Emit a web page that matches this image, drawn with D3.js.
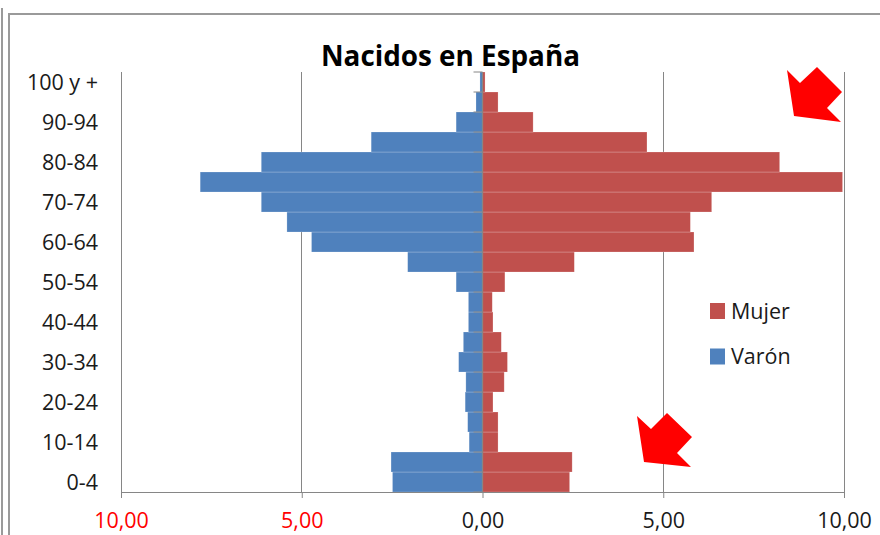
<!DOCTYPE html>
<html><head><meta charset="utf-8">
<script src="https://cdn.jsdelivr.net/npm/d3@7"></script>
<style>html,body{margin:0;padding:0;background:#fff;}svg{display:block;}</style>
</head><body>
<svg id="c" width="880" height="535"></svg>
<script>
const ageGroups = ["0-4","5-9","10-14","15-19","20-24","25-29","30-34","35-39","40-44","45-49","50-54","55-59","60-64","65-69","70-74","75-79","80-84","85-89","90-94","95-99","100 y +"];
const varon = [2.49,2.53,0.37,0.41,0.48,0.46,0.66,0.53,0.39,0.39,0.73,2.07,4.73,5.41,6.12,7.81,6.12,3.08,0.73,0.18,0.07];
const mujer = [2.41,2.48,0.43,0.43,0.29,0.60,0.69,0.52,0.29,0.27,0.62,2.54,5.85,5.75,6.34,9.96,8.22,4.55,1.40,0.43,0.07];
const xTicks = [-10,-5,0,5,10];
const xTickLabels = ["10,00","5,00","0,00","5,00","10,00"];
const seriesNames = ["Mujer","Varón"];
const title = "Nacidos en España";

const svg = d3.select("#c");
const FONT = "'Open Sans', sans-serif";
const grey = "#868686";
const blue = "#4F81BD", red = "#C0504D";

// frame
svg.append("line").attr("x1",2).attr("x2",2).attr("y1",8).attr("y2",535).attr("stroke","#9a9a9a").attr("stroke-width",2);
svg.append("path").attr("d","M9,535 V14 H880").attr("fill","none").attr("stroke","#9a9a9a").attr("stroke-width",2);

const x = d3.scaleLinear().domain([-10,10]).range([121,844]);
const y = d3.scaleBand().domain(ageGroups.slice().reverse()).range([72,492]).padding(0);

// gridlines
svg.append("g").selectAll("line").data(xTicks.filter(d=>d!==0)).join("line")
  .attr("x1",d=>x(d)).attr("x2",d=>x(d)).attr("y1",72).attr("y2",492)
  .attr("stroke",grey).attr("stroke-width",1).attr("shape-rendering","crispEdges");

// bars
svg.append("g").selectAll("rect").data(ageGroups).join("rect")
  .attr("x",(d,i)=>x(-varon[i])).attr("y",d=>y(d))
  .attr("width",(d,i)=>x(0)-x(-varon[i])).attr("height",y.bandwidth())
  .attr("fill",blue).attr("stroke","rgba(255,255,255,0.35)").attr("stroke-width",0.6);
svg.append("g").selectAll("rect").data(ageGroups).join("rect")
  .attr("x",x(0)).attr("y",d=>y(d))
  .attr("width",(d,i)=>x(mujer[i])-x(0)).attr("height",y.bandwidth())
  .attr("fill",red).attr("stroke","rgba(255,255,255,0.35)").attr("stroke-width",0.6);

// bottom axis
const xAxis = d3.axisBottom(x).tickValues(xTicks).tickSize(6).tickFormat((d,i)=>xTickLabels[i]);
const gx = svg.append("g").attr("transform","translate(0,492)").call(xAxis);
gx.select(".domain").attr("stroke",grey).attr("d","M121,0.5H844");
gx.selectAll(".tick line").attr("stroke",grey);
gx.selectAll(".tick text").attr("font-family",FONT).attr("font-size","21.5px")
  .attr("fill",(d)=>d<0?"#ff0000":"#1a1a1a").attr("dy","1.25em");

// category axis at zero
const boundaries = d3.range(ageGroups.length+1).map(i=>72+i*y.bandwidth());
svg.append("line").attr("x1",x(0)).attr("x2",x(0)).attr("y1",72).attr("y2",492).attr("stroke",grey).attr("stroke-width",1.3);
svg.append("g").selectAll("line").data(boundaries).join("line")
  .attr("x1",x(0)-9).attr("x2",x(0)).attr("y1",d=>d).attr("y2",d=>d)
  .attr("stroke",grey).attr("stroke-width",1);

// category labels (every other)
svg.append("g").selectAll("text").data(ageGroups.filter((d,i)=>i%2===0)).join("text")
  .attr("x",98).attr("y",d=>y(d)+y.bandwidth()/2).attr("dy","0.36em")
  .attr("text-anchor","end").attr("font-family",FONT).attr("font-size","21.5px").attr("fill","#1a1a1a")
  .text(d=>d);

// title
svg.append("text").attr("x",450.5).attr("y",66).attr("text-anchor","middle")
  .attr("font-family",FONT).attr("font-weight","bold").attr("font-size","28px")
  .attr("textLength",259).attr("lengthAdjust","spacingAndGlyphs").attr("fill","#000").text(title);

// legend
const leg = svg.append("g");
[[red,311],[blue,356.5]].forEach(([c,cy],i)=>{
  leg.append("rect").attr("x",710).attr("y",cy-8).attr("width",15).attr("height",16).attr("fill",c);
  leg.append("text").attr("x",731).attr("y",cy).attr("dy","0.36em").attr("font-family",FONT)
    .attr("font-size","21.5px").attr("fill","#1a1a1a").text(seriesNames[i]);
});

// red arrows (annotations)
const arrows = [
  [[787,70],[800,83],[817,67],[842,92],[827,108],[841,122],[794,116]],
  [[637,416],[651,429],[667,413],[692,437],[677,453],[691,467],[644,462]]
];
svg.append("g").selectAll("polygon").data(arrows).join("polygon")
  .attr("points",d=>d.map(p=>p.join(",")).join(" ")).attr("fill","#ff0000");
</script>
</body></html>
